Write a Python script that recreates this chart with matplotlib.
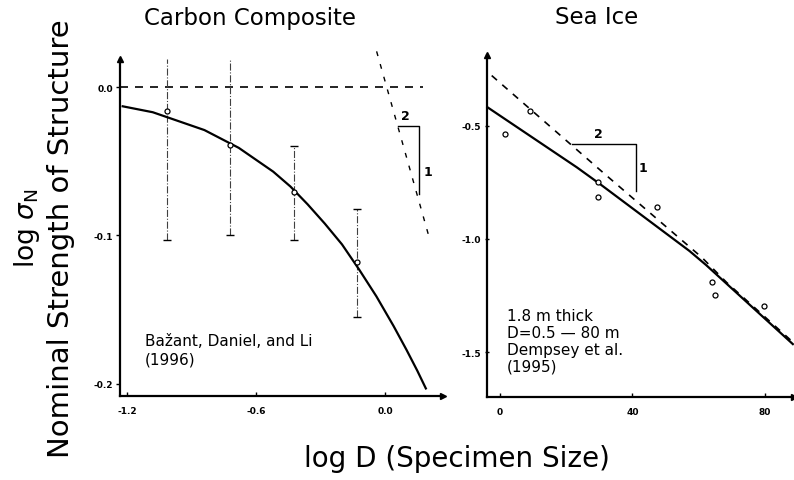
import numpy as np
import matplotlib.pyplot as plt

W, H = 794, 481

# --- Carbon composite (left panel), log sigma_N vs log D ---
cc_logd = [-1.014, -0.721, -0.423, -0.130]
cc_logs = [-0.016, -0.039, -0.071, -0.118]
cc_err_hi = [0.019, 0.019, -0.040, -0.082]
cc_err_lo = [-0.103, -0.100, -0.103, -0.155]
cc_fit_x = [-1.22, -1.15, -1.08, -1.00, -0.92, -0.84, -0.76, -0.68, -0.60, -0.52,
            -0.44, -0.36, -0.28, -0.20, -0.12, -0.04, 0.04, 0.10, 0.15, 0.19]
cc_fit_y = [-0.013, -0.015, -0.017, -0.021, -0.025, -0.029, -0.035, -0.041, -0.049, -0.057,
            -0.067, -0.079, -0.092, -0.106, -0.123, -0.141, -0.161, -0.177, -0.191, -0.203]
cc_flat_x = [-1.233, 0.177]
cc_flat_y = [0.0, 0.0]
cc_lefm_x = [-0.039, 0.201]
cc_lefm_y = [0.024, -0.099]
cc_tri_x = [0.062, 0.160, 0.160]
cc_tri_y = [-0.026, -0.026, -0.072]

# --- Sea ice (right panel) ---
ice_d = [1.5, 9.1, 29.6, 29.6, 47.5, 63.9, 64.9, 79.7]
ice_s = [-0.535, -0.432, -0.748, -0.814, -0.860, -1.192, -1.248, -1.295]
ice_fit_x = [-3.8, 23.2, 30.2, 57.2, 62.2, 88.4]
ice_fit_y = [-0.417, -0.683, -0.757, -1.053, -1.115, -1.465]
ice_dash_x = [-2.5, 32.2, 60.9, 68.4, 88.4]
ice_dash_y = [-0.277, -0.720, -1.081, -1.192, -1.456]
ice_tri_x = [21.6, 41.0, 41.0]
ice_tri_y = [-0.58, -0.58, -0.786]


def box(l, t, r, b):
    # pixel box -> figure fraction rect
    return [l / W, 1 - b / H, (r - l) / W, (b - t) / H]


def style_axes(ax):
    for s in ['top', 'right']:
        ax.spines[s].set_visible(False)
    for s in ['left', 'bottom']:
        ax.spines[s].set_linewidth(1.6)
    ax.plot(1, 0, '>k', ms=5, transform=ax.transAxes, clip_on=False)
    ax.plot(0, 1, '^k', ms=5, transform=ax.transAxes, clip_on=False)
    ax.tick_params(length=3, width=1, labelsize=6.5)
    for lab in ax.get_xticklabels() + ax.get_yticklabels():
        lab.set_fontweight('bold')


fig = plt.figure(figsize=(W / 100, H / 100), dpi=100)

# left panel
ax1 = fig.add_axes(box(120, 60, 443, 397))
ax1.set_xlim(-1.2326, 0.2698)
ax1.set_ylim(-0.2081, 0.01886)
ax1.set_xticks([-1.2, -0.6, 0.0], ['-1.2', '-0.6', '0.0'])
ax1.set_yticks([-0.2, -0.1, 0.0], ['-0.2', '-0.1', '0.0'])
ax1.tick_params(axis='x', direction='in', pad=7)
ax1.tick_params(axis='y', direction='out', pad=2)
style_axes(ax1)

ax1.plot(cc_flat_x, cc_flat_y, color='k', lw=1.2, dashes=(4.8, 4.2), clip_on=False)
ax1.plot(cc_lefm_x, cc_lefm_y, color='k', lw=1.0, dashes=(3.5, 6), clip_on=False)
ax1.plot(cc_tri_x, cc_tri_y, color='k', lw=1.0, clip_on=False)
ax1.text(0.093, -0.0195, '2', fontsize=9, fontweight='bold', ha='center', va='center')
ax1.text(0.200, -0.057, '1', fontsize=9, fontweight='bold', ha='center', va='center')

ax1.vlines(cc_logd, cc_err_lo, cc_err_hi, colors='0.25', lw=0.8, linestyles='-.')
caps_x = [x for x, h in zip(cc_logd, cc_err_hi) if h < 0] + cc_logd
caps_y = [h for h in cc_err_hi if h < 0] + cc_err_lo
ax1.plot(caps_x, caps_y, ls='none', marker='_', ms=6, mew=1.0, color='k')
ax1.plot(cc_fit_x, cc_fit_y, color='k', lw=1.6, clip_on=False)
ax1.plot(cc_logd, cc_logs, ls='none', marker='o', ms=3.6, mfc='white', mec='k', mew=0.9)
ax1.text(-1.116, -0.177, 'Bažant, Daniel, and Li\n(1996)', fontsize=11,
         ha='left', va='center', linespacing=1.25)

# right panel
ax2 = fig.add_axes(box(487, 56, 794, 398))
ax2.set_xlim(-3.92, 88.75)
ax2.set_ylim(-1.699, -0.186)
ax2.set_xticks([0, 40, 80], ['0', '40', '80'])
ax2.set_yticks([-1.5, -1.0, -0.5], ['-1.5', '-1.0', '-0.5'])
ax2.tick_params(axis='x', direction='in', pad=7)
ax2.tick_params(axis='y', direction='inout', pad=3)
style_axes(ax2)

ax2.plot(ice_dash_x, ice_dash_y, color='k', lw=1.2, dashes=(4.2, 4.2), clip_on=False)
ax2.plot(ice_fit_x, ice_fit_y, color='k', lw=1.6, clip_on=False)
ax2.plot(ice_tri_x, ice_tri_y, color='k', lw=1.0)
ax2.text(29.7, -0.535, '2', fontsize=9, fontweight='bold', ha='center', va='center')
ax2.text(43.1, -0.683, '1', fontsize=9, fontweight='bold', ha='center', va='center')
ax2.plot(ice_d, ice_s, ls='none', marker='o', ms=3.6, mfc='white', mec='k', mew=0.9)
ax2.text(2.1, -1.451, '1.8 m thick\nD=0.5 \u2014 80 m\nDempsey et al.\n(1995)', fontsize=11,
         ha='left', va='center', linespacing=1.15)

# titles and axis labels
fig.text(250 / W, 1 - 19 / H, 'Carbon Composite', fontsize=16.5, ha='center', va='center')
fig.text(597 / W, 1 - 18 / H, 'Sea Ice', fontsize=16.5, ha='center', va='center')
fig.text(27 / W, 1 - 228 / H, r'log $\sigma_\mathregular{N}$', fontsize=19, rotation=90,
         ha='center', va='center')
fig.text(61 / W, 1 - 239 / H, 'Nominal Strength of Structure', fontsize=21, rotation=90,
         ha='center', va='center')
fig.text(457 / W, 1 - 459 / H, 'log D (Specimen Size)', fontsize=20, ha='center', va='center')

fig.savefig('out.png', dpi=100, facecolor='white')
